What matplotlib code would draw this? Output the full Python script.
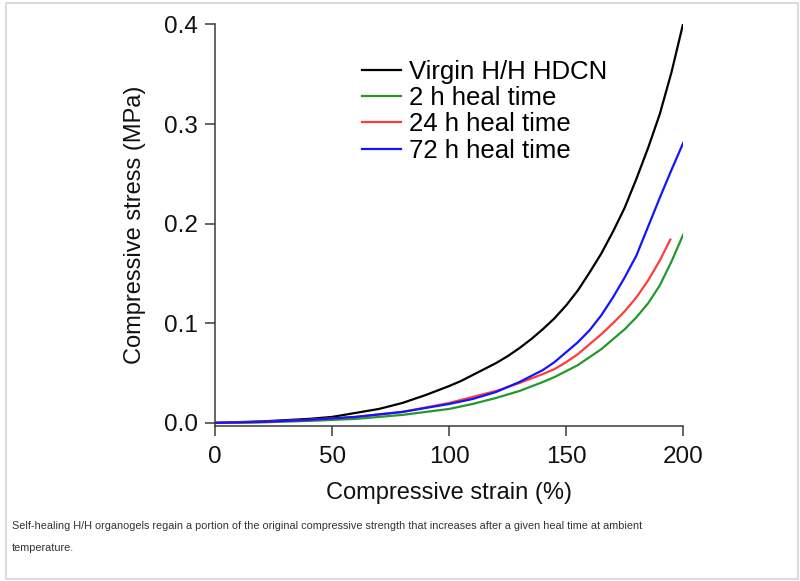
import matplotlib
matplotlib.use("Agg")
import matplotlib.pyplot as plt
from matplotlib.patches import Rectangle

plt.rcParams["font.family"] = ["Liberation Sans", "DejaVu Sans"]

# values (strain in %, stress in MPa)
virgin_x = [0, 20, 40, 50, 60, 70, 80, 90, 100, 105, 110, 115, 120, 125, 130, 135, 140, 145,
            150, 155, 160, 165, 170, 175, 180, 185, 190, 195, 200]
virgin_y = [0.0, 0.0015, 0.004, 0.006, 0.010, 0.014, 0.020, 0.028, 0.037, 0.042, 0.048, 0.054,
            0.060, 0.067, 0.075, 0.084, 0.094, 0.105, 0.118, 0.133, 0.151, 0.170, 0.192,
            0.216, 0.245, 0.276, 0.310, 0.352, 0.401]

heal2_x = [0, 20, 40, 60, 80, 100, 110, 120, 130, 140, 145, 150, 155, 160, 165, 170, 175,
           180, 185, 190, 195, 200]
heal2_y = [0.0, 0.0005, 0.002, 0.004, 0.008, 0.014, 0.019, 0.025, 0.032, 0.041, 0.046, 0.052,
           0.058, 0.066, 0.074, 0.084, 0.094, 0.106, 0.120, 0.138, 0.162, 0.189]

heal24_x = [0, 20, 40, 60, 80, 100, 110, 120, 130, 140, 145, 150, 155, 160, 165, 170, 175,
            180, 185, 190, 194.5]
heal24_y = [0.0, 0.001, 0.003, 0.006, 0.011, 0.020, 0.026, 0.032, 0.040, 0.049, 0.054, 0.061,
            0.069, 0.079, 0.089, 0.100, 0.112, 0.126, 0.143, 0.163, 0.184]

heal72_x = [0, 20, 40, 60, 80, 100, 110, 120, 130, 140, 145, 150, 155, 160, 165, 170, 175,
            180, 185, 190, 195, 200]
heal72_y = [0.0, 0.001, 0.003, 0.006, 0.011, 0.019, 0.024, 0.031, 0.041, 0.053, 0.061, 0.071,
            0.081, 0.093, 0.108, 0.126, 0.146, 0.168, 0.197, 0.226, 0.254, 0.281]

labels = ["Virgin H/H HDCN", "2 h heal time", "24 h heal time", "72 h heal time"]
colors = ["#000000", "#22992a", "#ff3c3c", "#1414ff"]

x_ticks = [0, 50, 100, 150, 200]
y_ticks = [0.0, 0.1, 0.2, 0.3, 0.4]

caption = ("Self-healing H/H organogels regain a portion of the original compressive strength "
           "that increases after a given heal time at ambient\ntemperature.")

fig = plt.figure(figsize=(8, 5.81), dpi=100)
ax = fig.add_axes([0.269, 0.267, 0.585, 0.691])

series = [(virgin_x, virgin_y), (heal2_x, heal2_y), (heal24_x, heal24_y), (heal72_x, heal72_y)]
for (xs, ys), lab, col in zip(series, labels, colors):
    ax.plot(xs, ys, color=col, lw=1.6, label=lab, solid_joinstyle="round")

ax.set_xlim(0, 200)
ax.set_ylim(-0.003, 0.4)
ax.set_xticks(x_ticks)
ax.set_yticks(y_ticks)
ax.set_yticklabels([f"{v:.1f}" for v in y_ticks])

for side in ["top", "right"]:
    ax.spines[side].set_visible(False)
for side in ["left", "bottom"]:
    ax.spines[side].set_color("#3a3a3a")
    ax.spines[side].set_linewidth(1.1)

ax.tick_params(axis="both", direction="out", length=7.5, width=1.1, color="#3a3a3a",
               labelsize=17.5, labelcolor="#111111", pad=5)
ax.tick_params(axis="x", pad=7)

ax.set_xlabel("Compressive strain (%)", fontsize=17, labelpad=10, color="#111111")
ax.set_ylabel("Compressive stress (MPa)", fontsize=17, labelpad=13, color="#111111")

ax.legend(loc="upper left", bbox_to_anchor=(0.452, 0.897), bbox_transform=fig.transFigure,
          frameon=False, fontsize=18.5, handlelength=1.55, handletextpad=0.3,
          labelspacing=0.09, borderpad=0, borderaxespad=0)

fig.text(0.015, 1 - 521 / 581, caption, fontsize=7.8, color="#333333", va="top", ha="left",
         linespacing=2.5)

fig.add_artist(Rectangle((6 / 800, 2 / 581), 792 / 800, 576 / 581, transform=fig.transFigure,
                         fill=False, edgecolor="#dcdcdc", lw=1.5))

fig.savefig("out.png", dpi=100)
